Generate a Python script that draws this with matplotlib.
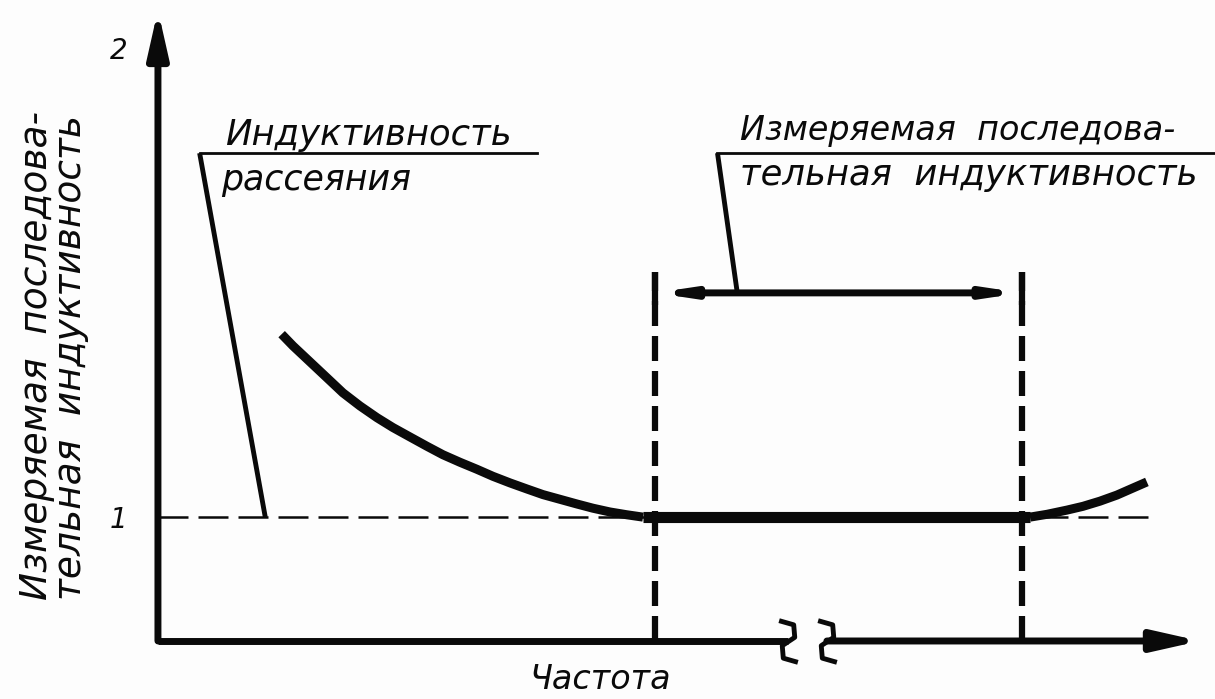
import matplotlib
matplotlib.use('Agg')
import matplotlib.pyplot as plt
from matplotlib.path import Path

# Measured series inductance vs frequency (schematic, normalised to 1)
freq_fall = [1.187, 1.296, 1.459, 1.622, 1.775, 1.939, 2.102, 2.255, 2.418,
             2.582, 2.735, 2.898, 3.061, 3.215, 3.378, 3.541, 3.695, 3.858,
             4.021, 4.175, 4.338, 4.501, 4.655]
ind_fall = [1.390, 1.365, 1.331, 1.297, 1.265, 1.237, 1.212, 1.191, 1.171,
            1.151, 1.133, 1.117, 1.102, 1.087, 1.073, 1.060, 1.048, 1.038,
            1.028, 1.019, 1.011, 1.005, 1.0]
freq_flat = [4.655, 8.369]
ind_flat = [1.0, 1.0]
freq_rise = [8.369, 8.532, 8.724, 8.877, 9.040, 9.203, 9.357, 9.491]
ind_rise = [1.0, 1.006, 1.015, 1.023, 1.034, 1.047, 1.062, 1.075]

ref_level = 1.0
ref_end = 9.52
band_edges = [4.77, 8.29]
band_top = 1.522
band_tick_bottom = 1.452
band_arrow_y = 1.478
tick_values = [1, 2]
tick_labels = ['1', '2']
axis_break = [6.05, 6.42]

# leader lines: horizontal rule from x0 to x1 at y, pointer from x0 to tip
leak_leader = dict(x0=0.40, x1=3.64, y=1.776, tip=(1.03, 1.0))
meas_leader = dict(x0=5.37, x1=10.2, y=1.776, tip=(5.56, 1.478))

leak_text = ['Индуктивность', 'рассеяния']
meas_text = ['Измеряемая  последова-', 'тельная  индуктивность']
ylabel_text = 'Измеряемая  последова-\nтельная  индуктивность'
xlabel_text = 'Частота'

XMIN, XMAX = 0.0, 10.0
YMIN, YMAX = 0.736, 2.081
BG = '#fdfdfd'
INK = '#0a0a0a'

# vertical "≀" shaped axis-break glyph, used as an open marker
break_glyph = Path([(-0.45, 1.0), (0.25, 0.8), (0.3, 0.2), (0.0, 0.0),
                    (-0.3, -0.2), (-0.25, -0.8), (0.45, -1.0)])

fig = plt.figure(figsize=(12.15, 6.99), dpi=100)
fig.patch.set_facecolor(BG)
ax = fig.add_axes([0.1300, 0.0830, 0.8576, 0.9027])
ax.set_facecolor(BG)
ax.set_xlim(XMIN, XMAX)
ax.set_ylim(YMIN, YMAX)
for spine in ax.spines.values():
    spine.set_visible(False)
ax.set_xticks([])
ax.set_yticks(tick_values)
ax.set_yticklabels(tick_labels, fontsize=20, fontstyle='italic', color=INK)
ax.tick_params(axis='y', length=0, pad=22)

# Axes drawn as arrows, x axis with a break
head = '-|>,head_length=0.62,head_width=0.14'
ax.annotate('', xy=(XMIN, YMAX), xytext=(XMIN, YMIN),
            arrowprops=dict(arrowstyle=head, lw=5, color=INK, mutation_scale=44,
                            shrinkA=0, shrinkB=0), annotation_clip=False)
ax.plot([XMIN, axis_break[0]], [YMIN, YMIN], color=INK, lw=5,
        solid_capstyle='butt', clip_on=False)
ax.annotate('', xy=(XMAX, YMIN), xytext=(axis_break[1], YMIN),
            arrowprops=dict(arrowstyle=head, lw=5, color=INK, mutation_scale=44,
                            shrinkA=0, shrinkB=0), annotation_clip=False)
ax.plot(axis_break, [YMIN, YMIN], linestyle='none', marker=break_glyph,
        markersize=30, markerfacecolor='none', markeredgecolor=INK,
        markeredgewidth=3.5, clip_on=False)

# Reference level 1
ax.plot([XMIN, ref_end], [ref_level, ref_level], color=INK, lw=1.8,
        dashes=(12, 4), clip_on=False)

# Measurement band
for xe in band_edges:
    ax.plot([xe, xe], [YMIN, band_top], color=INK, lw=4.5, dashes=(4, 1.6))
    ax.plot([xe, xe], [band_tick_bottom, band_top], color=INK, lw=4.5,
            solid_capstyle='butt')
ax.annotate('', xy=(band_edges[1], band_arrow_y), xytext=(band_edges[0], band_arrow_y),
            arrowprops=dict(arrowstyle='<|-|>,head_length=1.2,head_width=0.18',
                            lw=5, color=INK, mutation_scale=14,
                            shrinkA=0, shrinkB=0))

# Curve
curve = dict(color=INK, lw=6.5, solid_capstyle='butt', solid_joinstyle='round')
ax.plot(freq_fall, ind_fall, **curve)
ax.plot(freq_flat, ind_flat, color=INK, lw=8, solid_capstyle='butt')
ax.plot(freq_rise, ind_rise, **curve)

# Leaders and callout text
for ld in (leak_leader, meas_leader):
    ax.plot([ld['x0'], ld['x1']], [ld['y'], ld['y']], color=INK, lw=2, clip_on=False)
    ax.plot([ld['x0'], ld['tip'][0]], [ld['y'], ld['tip'][1]], color=INK, lw=3.5,
            solid_capstyle='butt')

txt = dict(fontstyle='italic', color=INK, ha='left', va='center')
ax.text(0.64, 1.814, leak_text[0], fontsize=25.5, **txt)
ax.text(0.61, 1.719, leak_text[1], fontsize=25, **txt)
ax.text(5.59, 1.825, meas_text[0], fontsize=24, **txt)
ax.text(5.59, 1.729, meas_text[1], fontsize=25.5, **txt)

fig.text(54 / 1215, 99 / 699, ylabel_text, rotation=90, fontsize=27,
         fontstyle='italic', color=INK, ha='center', va='bottom',
         multialignment='left', linespacing=0.95)
ax.text(0.424, -0.0618, xlabel_text, transform=ax.transAxes, fontsize=24,
        fontstyle='italic', color=INK, ha='center', va='center')

fig.savefig('out.png', dpi=100, facecolor=BG)
